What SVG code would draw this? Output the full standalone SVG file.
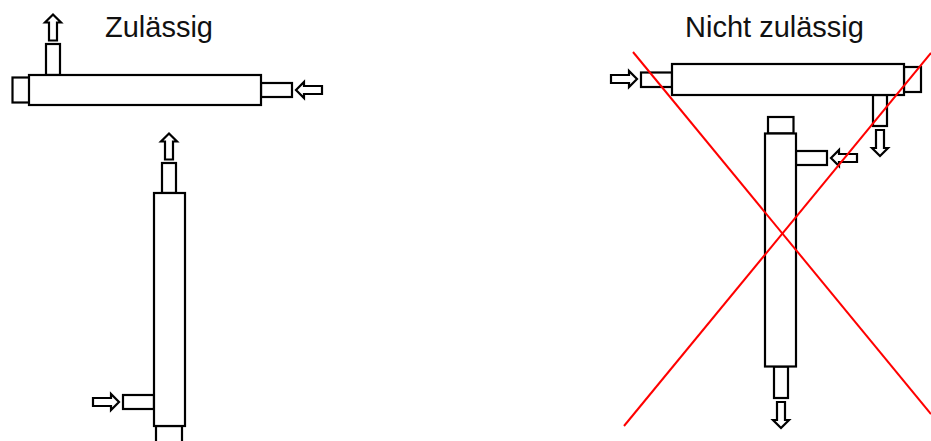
<svg xmlns="http://www.w3.org/2000/svg" width="931" height="441" viewBox="0 0 931 441">
<style>
.part{fill:#fff;stroke:#000;stroke-width:2.200}
.arrow{fill:#fff;stroke:#000;stroke-width:2.200;stroke-linejoin:miter}
.cross{fill:none;stroke:#f00;stroke-width:2}
text{font-family:"Liberation Sans",Arial,sans-serif;font-size:29px;fill:#111}
</style>
<defs>
<path id="up" d="M0 0L8 8H4V26H-4V8H-8Z"/>
</defs>
<rect width="931" height="441" fill="#fff"/>
<text x="105" y="37">Zulässig</text>
<text x="685" y="37">Nicht zulässig</text>
<g id="horizontal-ok">
<rect class="part" x="12.500" y="77.500" width="17" height="25"/>
<rect class="part" x="46" y="44" width="14" height="31"/>
<rect class="part" x="261" y="83" width="31" height="14"/>
<rect class="part" x="29" y="75" width="232" height="30"/>
<use href="#up" class="arrow" transform="translate(53 14.500)"/>
<use href="#up" class="arrow" transform="translate(296 90) rotate(-90)"/>
</g>
<g id="vertical-ok">
<rect class="part" x="156" y="426" width="26" height="20"/>
<rect class="part" x="162" y="163" width="14" height="30"/>
<rect class="part" x="123" y="395" width="31" height="14"/>
<rect class="part" x="154" y="193" width="31" height="233"/>
<use href="#up" class="arrow" transform="translate(169 133.500)"/>
<use href="#up" class="arrow" transform="translate(119 402) rotate(90)"/>
</g>
<g id="horizontal-bad">
<rect class="part" x="641" y="72.500" width="31" height="14.500"/>
<rect class="part" x="904" y="67" width="17" height="25"/>
<rect class="part" x="873" y="95" width="14" height="31"/>
<rect class="part" x="672" y="64" width="232" height="31"/>
<use href="#up" class="arrow" transform="translate(637 79) rotate(90)"/>
<use href="#up" class="arrow" transform="translate(880 156) rotate(180)"/>
</g>
<g id="vertical-bad">
<rect class="part" x="768" y="117" width="25.500" height="16.500"/>
<rect class="part" x="796" y="151" width="31" height="14"/>
<rect class="part" x="774" y="366.500" width="14" height="31.500"/>
<rect class="part" x="765" y="133.500" width="31" height="233"/>
<use href="#up" class="arrow" transform="translate(831 158) rotate(-90)"/>
<use href="#up" class="arrow" transform="translate(781 428) rotate(180)"/>
</g>
<g id="connectors">
<line class="cross" x1="633" y1="52" x2="931" y2="414"/>
<line class="cross" x1="624" y1="426" x2="931" y2="53"/>
</g>
</svg>
